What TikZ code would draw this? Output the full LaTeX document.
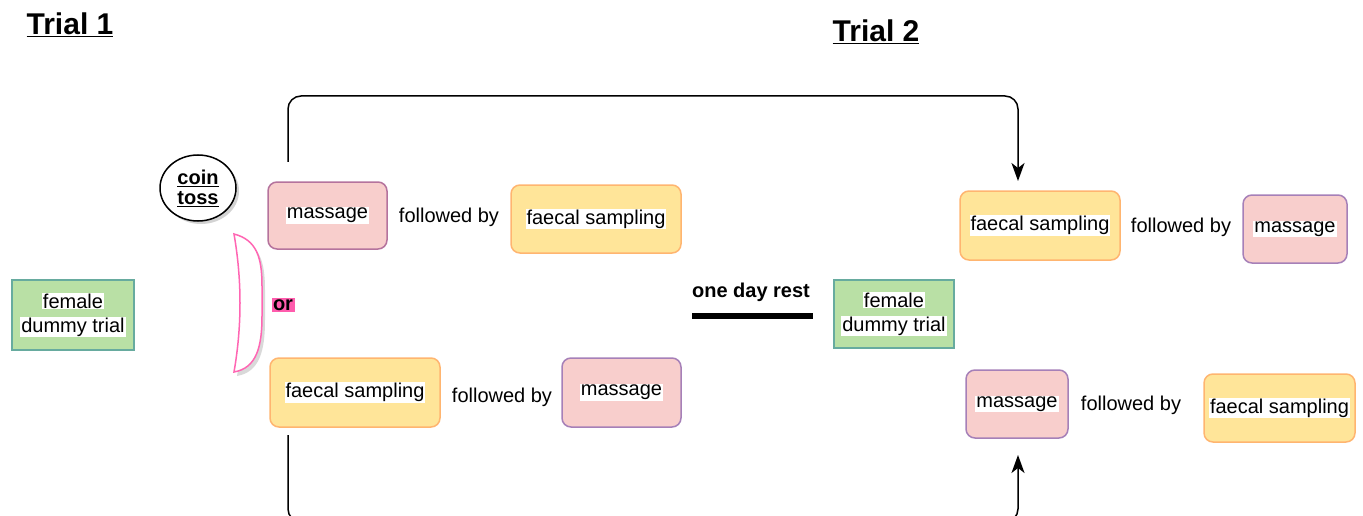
\documentclass[tikz,border=0pt]{standalone}
\usepackage{fontspec}
\setmainfont{Liberation Sans}
\usetikzlibrary{arrows.meta,shadows,shapes.geometric}
\definecolor{gfill}{HTML}{B9E0A5}
\definecolor{gline}{HTML}{67AB9F}
\definecolor{pfill}{HTML}{F8CECC}
\definecolor{pline}{HTML}{B5739D}
\definecolor{vline}{HTML}{A680B8}
\definecolor{yfill}{HTML}{FFE599}
\definecolor{yline}{HTML}{FFB570}
\definecolor{hotpink}{HTML}{FF66B3}
\definecolor{orpink}{HTML}{FF5CAD}
\newcommand{\hlw}[1]{\raisebox{-2.5pt}{\setlength{\fboxsep}{1pt}\colorbox{white}{#1}}}
\tikzset{
  body/.style={font=\fontsize{20}{25}\selectfont},
  greenbox/.style={draw=gline, fill=gfill, line width=1.5pt, minimum width=122pt, minimum height=70pt, align=center, body, inner sep=0pt},
  pinkbox/.style={draw=pline, fill=pfill, line width=1.5pt, rounded corners=9pt, body, inner sep=0pt},
  yellowbox/.style={draw=yline, fill=yfill, line width=1.5pt, rounded corners=9pt, body, inner sep=0pt},
  follow/.style={body, inner sep=0pt},
  title/.style={font=\fontsize{30}{34}\selectfont\bfseries, inner sep=0pt},
  conn/.style={line width=1.5pt, rounded corners=13pt},
  tip/.style={-{Stealth[length=18pt,width=13pt,inset=5pt]}}
}
\begin{document}
\begin{tikzpicture}[x=1pt,y=-1pt]
\useasboundingbox (0,0) rectangle (1363,516);
\clip (0,0) rectangle (1363,516);

% titles
\node[title] (t1) at (70,25) {\underline{Trial 1}};
\node[title] (t2) at (876,32) {\underline{Trial 2}};

% trial 1
\node[greenbox] (f1) at (73,315) {\hlw{female}\\[-1pt]\hlw{dummy trial}};

\node[pinkbox, minimum width=119pt, minimum height=67pt] (m1) at (327.5,215.5) {\hlw{massage}};
\node[follow] (fb1) at (449,217) {followed by};
\node[yellowbox, minimum width=170pt, minimum height=68pt] (s1) at (596,219) {\hlw{faecal sampling}};

\node[yellowbox, minimum width=170pt, minimum height=69pt] (s2) at (355,392.5) {\hlw{faecal sampling}};
\node[follow] (fb2) at (502,397) {followed by};
\node[pinkbox, draw=vline, minimum width=119pt, minimum height=69pt] (m2) at (621.5,392.5) {\hlw{massage}};

% coin toss
\node[draw=black, fill=white, line width=1.5pt, ellipse, minimum width=76pt, minimum height=66pt, inner sep=0pt,
      drop shadow={shadow xshift=3pt, shadow yshift=-3pt, opacity=0.35, fill=gray},
      font=\fontsize{20}{23}\selectfont\bfseries, align=center] (coin) at (198,188) {\underline{coin}\\[-3pt]\underline{toss}};

% crescent
\fill[gray, opacity=0.3] (237,238) .. controls (245,284) and (245,330) .. (237,376)
   .. controls (260,372) and (265,350) .. (265,320) -- (265,290) .. controls (265,262) and (260,244) .. (237,238) -- cycle;
\draw[hotpink, fill=white, line width=1.5pt] (234,234) .. controls (242,280) and (242,326) .. (234,372)
   .. controls (257,368) and (262,346) .. (262,316) -- (262,286) .. controls (262,258) and (257,240) .. (234,234) -- cycle;
\node[fill=orpink, inner sep=1.5pt, font=\fontsize{20}{23}\selectfont\bfseries] (or) at (283,305) {or};

% one day rest
\node[font=\fontsize{20}{24}\selectfont\bfseries, inner sep=0pt] (rest) at (751,292) {one day rest};
\coordinate (ra) at (692,316);
\coordinate (rb) at (813,316);
\draw[line width=6pt] (ra) -- (rb);

% trial 2
\node[greenbox, minimum width=120pt, minimum height=68pt] (f2) at (894,314) {\hlw{female}\\[-1pt]\hlw{dummy trial}};

\node[yellowbox, minimum width=160pt, minimum height=69pt] (s3) at (1040,225.5) {\hlw{faecal sampling}};
\node[follow] (fb3) at (1181,227) {followed by};
\node[pinkbox, draw=vline, minimum width=104pt, minimum height=68pt] (m3) at (1295,229) {\hlw{massage}};

\node[pinkbox, draw=vline, minimum width=102pt, minimum height=68pt] (m4) at (1017,404) {\hlw{massage}};
\node[follow] (fb4) at (1131,405) {followed by};
\node[yellowbox, minimum width=151pt, minimum height=68pt] (s4) at (1279.5,408) {\hlw{faecal sampling}};

% connectors
\coordinate (topstart) at (288,162);
\coordinate (topend) at (1018,181);
\coordinate (botstart) at (288,435);
\coordinate (botend) at (1018,455);
\draw[conn, tip] (topstart) -- (288,96) -- (1018,96) -- (topend);
\draw[conn, tip] (botstart) -- (288,522) -- (1018,522) -- (botend);
\end{tikzpicture}
\end{document}
